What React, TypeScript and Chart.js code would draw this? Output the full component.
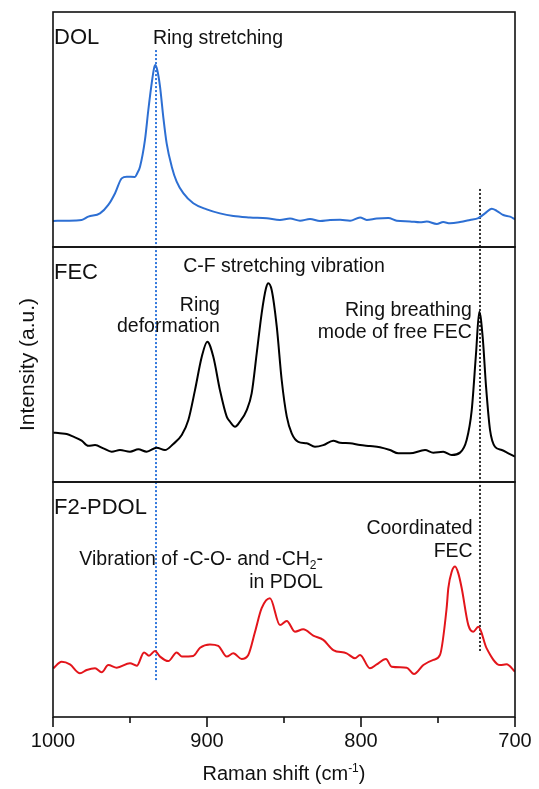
import React, { useEffect, useRef } from 'react';
import { Chart, registerables } from 'chart.js';

Chart.register(...registerables);

const FONT = '"Liberation Sans", Arial, sans-serif';

// ---- Data (Raman shift in cm-1, intensity in arbitrary units, 0-100 per panel) ----
const dolShift = [1000, 991.1, 981.4, 977.1, 969.5, 964.1, 959.7, 955.4, 952.1, 946.8, 945.3, 943.5, 940.3, 938.1, 935.9, 934.4, 933.6, 932.3, 930.5, 928.4, 926.2, 922.9, 919.7, 915.4, 908.9, 900.2, 891.6, 882.9, 872.1, 861.2, 852.6, 846.1, 839.6, 833.1, 826.6, 820.1, 813.6, 807.1, 800.6, 796.3, 789.8, 782.3, 776.8, 768.2, 761.7, 757.3, 750.8, 746.6, 742.2, 735.7, 729.2, 723.8, 719.5, 715.1, 711.9, 707.6, 703.2, 700];
const dolIntensity = [11.1, 11.2, 11.5, 12.9, 14.3, 17.9, 22.9, 29.2, 29.9, 29.8, 31.4, 34.2, 45.5, 58.3, 69.7, 76.0, 77.4, 75.3, 68.2, 55.4, 44.1, 34.2, 27.8, 22.9, 18.6, 16.0, 14.3, 13.2, 12.6, 12.2, 11.5, 12.1, 11.2, 11.9, 11.1, 11.5, 11.6, 11.2, 12.6, 11.5, 12.1, 12.3, 11.2, 10.9, 10.5, 10.8, 9.8, 10.6, 10.1, 10.6, 11.5, 12.3, 14.3, 16.3, 15.4, 13.6, 12.9, 11.8];

const fecShift = [999.8, 995.5, 991.1, 986.8, 981.4, 977.1, 972.7, 967.3, 961.9, 956.5, 950, 944.6, 939.2, 932.7, 927.3, 921.9, 916.4, 912.1, 907.8, 903.4, 899.8, 895.9, 891.6, 887.2, 885.1, 881.8, 878.6, 874.2, 871.0, 867.7, 864.5, 861.7, 860.2, 858.0, 854.7, 851.5, 848.2, 845.0, 840.7, 835.3, 829.9, 824.5, 818.0, 813.6, 807.1, 800.6, 794.2, 787.7, 781.2, 775.8, 768.2, 758.4, 753.1, 746.6, 741.1, 735.7, 731.4, 728.1, 725.3, 723.2, 721.0, 718.8, 716.2, 713.0, 708.6, 704.3, 700];
const fecIntensity = [21.1, 20.7, 20.4, 19.3, 17.6, 15.4, 15.7, 14.3, 12.9, 13.6, 12.9, 13.9, 12.9, 14.6, 13.6, 16.2, 20.0, 26.4, 39.1, 53.3, 59.7, 53.3, 39.1, 27.8, 25.7, 23.5, 25.7, 30.6, 37.7, 54.8, 71.8, 82.4, 84.6, 81.7, 66.1, 43.4, 27.8, 20.7, 17.1, 16.5, 15.0, 15.7, 17.6, 16.7, 16.5, 15.7, 15.3, 14.8, 13.6, 12.2, 12.2, 13.6, 12.5, 12.9, 11.5, 12.5, 17.9, 30.6, 54.8, 72.5, 61.8, 40.6, 22.1, 15.0, 13.6, 12.2, 10.8];

const pdolShift = [999.8, 994.4, 989, 982.5, 978.1, 972.7, 968.4, 964.1, 958.6, 950, 945.6, 940.9, 937.7, 933.8, 930.5, 925.1, 919.7, 916.4, 908.9, 904.5, 898.1, 892.7, 887.2, 882.9, 877.5, 873.2, 868.8, 864.5, 859.1, 852.6, 848.2, 842.9, 837.5, 831, 824.5, 818, 809.3, 803.9, 800.6, 794.2, 789.8, 783.8, 780.1, 770.3, 765.6, 759.5, 753, 748.7, 744.4, 743.3, 741.1, 738.9, 736.8, 734.6, 730.3, 727.1, 723.8, 718.4, 709.7, 705.5, 700];
const pdolIntensity = [20.7, 23.5, 22.4, 18.6, 20.0, 20.7, 19.0, 22.1, 21.0, 22.9, 21.8, 27.5, 26.1, 28.1, 25.7, 23.8, 27.5, 25.7, 26.0, 29.5, 30.9, 30.3, 25.7, 27.1, 24.7, 26.4, 36.3, 46.3, 50.5, 39.1, 40.9, 36.3, 37.3, 34.6, 32.8, 28.5, 27.1, 25.0, 26.4, 20.7, 22.4, 24.7, 21.4, 21.0, 18.3, 22.1, 24.3, 26.4, 46.3, 54.8, 61.8, 64.0, 61.1, 54.8, 39.1, 36.3, 38.4, 29.2, 22.1, 22.4, 19.3];

const xTickValues = [1000, 950, 900, 850, 800, 750, 700];
const xMajorTicks = [1000, 900, 800, 700];
const panelLabels = ['DOL', 'FEC', 'F2-PDOL'];
const panelAxes = ['yDol', 'yFec', 'yPdol'];

type Run = { t: string; sub?: boolean; sup?: boolean };
type Note = { axis: string; x: number; y: number; align: 'left' | 'right' | 'center'; runs: Run[] };

const notes: Note[] = [
  { axis: 'yDol', x: 935.1, y: 86.4, align: 'left', runs: [{ t: 'Ring stretching' }] },
  { axis: 'yFec', x: 850, y: 89.5, align: 'center', runs: [{ t: 'C-F stretching vibration' }] },
  { axis: 'yFec', x: 891.6, y: 72.9, align: 'right', runs: [{ t: 'Ring' }] },
  { axis: 'yFec', x: 891.6, y: 64.0, align: 'right', runs: [{ t: 'deformation' }] },
  { axis: 'yFec', x: 728.1, y: 70.6, align: 'right', runs: [{ t: 'Ring breathing' }] },
  { axis: 'yFec', x: 728.1, y: 61.3, align: 'right', runs: [{ t: 'mode of free FEC' }] },
  { axis: 'yPdol', x: 824.7, y: 64.7, align: 'right', runs: [{ t: 'Vibration of -C-O- and -CH' }, { t: '2', sub: true }, { t: '-' }] },
  { axis: 'yPdol', x: 824.7, y: 54.8, align: 'right', runs: [{ t: 'in PDOL' }] },
  { axis: 'yPdol', x: 727.5, y: 77.7, align: 'right', runs: [{ t: 'Coordinated' }] },
  { axis: 'yPdol', x: 727.5, y: 68.2, align: 'right', runs: [{ t: 'FEC' }] },
];

const markerLines = [
  { shift: 933, fromAxis: 'yDol', fromValue: 83.8, toAxis: 'yPdol', toValue: 15.7, color: '#3479dc' },
  { shift: 723, fromAxis: 'yDol', fromValue: 24.7, toAxis: 'yPdol', toValue: 27.7, color: '#333333' },
];

const NOTE_SIZE = 19.5;

function drawRuns(ctx: CanvasRenderingContext2D, runs: Run[], x: number, y: number, align: string, size: number) {
  const small = Math.round(size * 0.6);
  const widths = runs.map((r) => {
    ctx.font = `${r.sub || r.sup ? small : size}px ${FONT}`;
    return ctx.measureText(r.t).width;
  });
  const total = widths.reduce((a, b) => a + b, 0);
  let cx = align === 'right' ? x - total : align === 'center' ? x - total / 2 : x;
  ctx.textAlign = 'left';
  ctx.textBaseline = 'alphabetic';
  runs.forEach((r, i) => {
    ctx.font = `${r.sub || r.sup ? small : size}px ${FONT}`;
    const dy = r.sub ? size * 0.22 : r.sup ? -size * 0.42 : 0;
    ctx.fillText(r.t, cx, y + dy);
    cx += widths[i];
  });
}

const overlayPlugin = {
  id: 'overlay',
  beforeDatasetsDraw(chart: any) {
    const { ctx } = chart;
    const sx = chart.scales.x;
    ctx.save();
    ctx.lineWidth = 2;
    ctx.setLineDash([2, 2]);
    for (const m of markerLines) {
      const px = Math.round(sx.getPixelForValue(m.shift));
      const y0 = chart.scales[m.fromAxis].getPixelForValue(m.fromValue);
      const y1 = chart.scales[m.toAxis].getPixelForValue(m.toValue);
      ctx.strokeStyle = m.color;
      ctx.beginPath();
      ctx.moveTo(px, y0);
      ctx.lineTo(px, y1);
      ctx.stroke();
    }
    ctx.restore();
  },
  afterDatasetsDraw(chart: any) {
    const { ctx, chartArea } = chart;
    const sx = chart.scales.x;
    ctx.save();
    ctx.strokeStyle = '#111';
    ctx.lineWidth = 1.6;
    ctx.setLineDash([]);
    panelAxes.forEach((id) => {
      const s = chart.scales[id];
      ctx.strokeRect(chartArea.left, s.top, chartArea.right - chartArea.left, s.bottom - s.top);
    });
    // x ticks
    xTickValues.forEach((v) => {
      const px = Math.round(sx.getPixelForValue(v));
      const len = xMajorTicks.includes(v) ? 10 : 6;
      ctx.beginPath();
      ctx.moveTo(px, chartArea.bottom);
      ctx.lineTo(px, chartArea.bottom + len);
      ctx.stroke();
    });
    ctx.fillStyle = '#111';
    // panel labels
    panelAxes.forEach((id, i) => {
      const s = chart.scales[id];
      drawRuns(ctx, [{ t: panelLabels[i] }], chartArea.left + 1, s.top + 32, 'left', 22);
    });
    // annotations
    notes.forEach((n) => {
      const px = sx.getPixelForValue(n.x);
      const py = chart.scales[n.axis].getPixelForValue(n.y);
      drawRuns(ctx, n.runs, px, py, n.align, NOTE_SIZE);
    });
    // x-axis title
    drawRuns(ctx, [{ t: 'Raman shift (cm' }, { t: '-1', sup: true }, { t: ')' }], (chartArea.left + chartArea.right) / 2, 780, 'center', 20);
    // y-axis title
    ctx.save();
    ctx.translate(34, (chartArea.top + chartArea.bottom) / 2);
    ctx.rotate(-Math.PI / 2);
    drawRuns(ctx, [{ t: 'Intensity (a.u.)' }], 0, 0, 'center', 21);
    ctx.restore();
    ctx.restore();
  },
};

function hiddenY(stackWeight: number) {
  return {
    type: 'linear' as const,
    position: 'left' as const,
    stack: 'panels',
    stackWeight,
    min: 0,
    max: 100,
    ticks: { display: false },
    grid: { display: false, drawTicks: false },
    border: { display: false },
    afterFit: (scale: any) => {
      scale.width = 53;
      scale.paddingTop = 0;
      scale.paddingBottom = 0;
    },
  };
}

export default function App() {
  const canvasRef = useRef<HTMLCanvasElement | null>(null);

  useEffect(() => {
    const canvas = canvasRef.current;
    if (!canvas) return;
    const toPts = (xs: number[], ys: number[]) => xs.map((x, i) => ({ x, y: ys[i] }));
    const chart = new Chart(canvas, {
      type: 'line',
      data: {
        datasets: [
          { label: 'DOL', data: toPts(dolShift, dolIntensity), yAxisID: 'yDol', borderColor: '#2d6fd3', borderWidth: 2, pointRadius: 0, cubicInterpolationMode: 'monotone' },
          { label: 'FEC', data: toPts(fecShift, fecIntensity), yAxisID: 'yFec', borderColor: '#000000', borderWidth: 2, pointRadius: 0, cubicInterpolationMode: 'monotone' },
          { label: 'F2-PDOL', data: toPts(pdolShift, pdolIntensity), yAxisID: 'yPdol', borderColor: '#e3151b', borderWidth: 2, pointRadius: 0, cubicInterpolationMode: 'monotone' },
        ],
      },
      options: {
        responsive: false,
        animation: false,
        devicePixelRatio: 1,
        parsing: false,
        layout: { padding: { top: 12, right: 24, bottom: 0, left: 0 } },
        plugins: { legend: { display: false }, tooltip: { enabled: false } },
        scales: {
          x: {
            type: 'linear',
            position: 'bottom',
            min: 700,
            max: 1000,
            reverse: true,
            afterBuildTicks: (scale: any) => {
              scale.ticks = xTickValues.map((v) => ({ value: v }));
            },
            ticks: {
              autoSkip: false,
              maxRotation: 0,
              padding: 12,
              color: '#111',
              font: { family: FONT, size: 20 },
              callback: (v: any) => (xMajorTicks.includes(Number(v)) ? String(v) : ''),
            },
            grid: { display: false, drawTicks: false },
            border: { display: false },
            afterFit: (scale: any) => {
              scale.height = 72;
              scale.paddingLeft = 0;
              scale.paddingRight = 0;
            },
          },
          yPdol: hiddenY(1),
          yFec: hiddenY(1),
          yDol: hiddenY(1),
        },
      } as any,
      plugins: [overlayPlugin],
    });
    return () => chart.destroy();
  }, []);

  return (
    <div style={{ position: 'absolute', left: 0, top: 0, width: 539, height: 789, background: '#fff' }}>
      <canvas ref={canvasRef} width={539} height={789} style={{ display: 'block' }} />
    </div>
  );
}
